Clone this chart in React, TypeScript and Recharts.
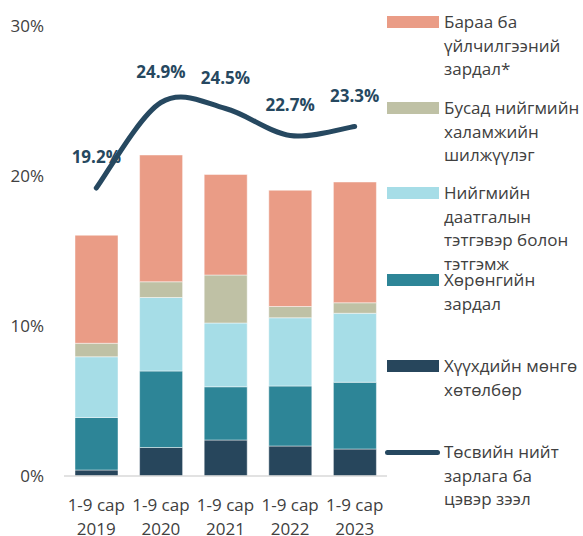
import { ComposedChart, Bar, Line, XAxis, YAxis, LabelList } from "recharts"

// Budget spending structure, share of GDP (%), Jan-Sep of each year
const periods = ["2019", "2020", "2021", "2022", "2023"]
const childMoney = [0.4, 1.9, 2.4, 2.0, 1.8]
const capitalSpending = [3.5, 5.1, 3.55, 4.0, 4.45]
const socialInsurance = [4.05, 4.9, 4.25, 4.55, 4.6]
const otherWelfare = [0.9, 1.05, 3.2, 0.75, 0.7]
const goodsServices = [7.2, 8.45, 6.7, 7.75, 8.05]
const totalSpending = [19.2, 24.9, 24.5, 22.7, 23.3]
const yTicks = [0, 10, 20, 30]

const legendLabels = [
  ["Бараа ба", "үйлчилгээний", "зардал*"],
  ["Бусад нийгмийн", "халамжийн", "шилжүүлэг"],
  ["Нийгмийн", "даатгалын", "тэтгэвэр болон", "тэтгэмж"],
  ["Хөрөнгийн", "зардал"],
  ["Хүүхдийн мөнгө", "хөтөлбөр"],
  ["Төсвийн нийт", "зарлага ба", "цэвэр зээл"],
]

const data = periods.map((year, i) => ({
  period: year,
  childMoney: childMoney[i],
  capitalSpending: capitalSpending[i],
  socialInsurance: socialInsurance[i],
  otherWelfare: otherWelfare[i],
  goodsServices: goodsServices[i],
  totalSpending: totalSpending[i],
}))

const FONT = "'Open Sans', 'Noto Sans', sans-serif"
const TEXT = "#404040"
const NAVY = "#264860"
const colors = ["#EA9C86", "#BFC1A5", "#A6DDE7", "#2D8597", "#27465C"]
const legendCenters = [22, 108, 193, 280, 366, 452]
const LH = 23.5

// excel-like smoothed line (catmull-rom as bezier)
const smoothCurve = (context: any) => {
  let xs: number[] = []
  let ys: number[] = []
  return {
    areaStart() {},
    areaEnd() {},
    lineStart() {
      xs = []
      ys = []
    },
    point(x: number, y: number) {
      xs.push(+x)
      ys.push(+y)
    },
    lineEnd() {
      const n = xs.length
      if (!n) return
      context.moveTo(xs[0], ys[0])
      for (let i = 0; i < n - 1; i++) {
        const a = Math.max(i - 1, 0)
        const d = Math.min(i + 2, n - 1)
        context.bezierCurveTo(
          xs[i] + (xs[i + 1] - xs[a]) / 6,
          ys[i] + (ys[i + 1] - ys[a]) / 6,
          xs[i + 1] - (xs[d] - xs[i]) / 6,
          ys[i + 1] - (ys[d] - ys[i]) / 6,
          xs[i + 1],
          ys[i + 1]
        )
      }
    },
  }
}

const PeriodTick = ({ x, y, payload }: any) => (
  <g transform={`translate(${x},${y})`}>
    <text textAnchor="middle" fontFamily={FONT} fontSize={17} fill={TEXT}>
      <tspan x={0} y={35}>1-9 сар</tspan>
      <tspan x={0} y={59}>{payload.value}</tspan>
    </text>
  </g>
)

const TotalLabel = ({ x, y, value }: any) => (
  <text x={x} y={y - 25} textAnchor="middle" fontFamily={FONT} fontSize={17} fontWeight={700} fill={NAVY}>
    {Number(value).toFixed(1)}%
  </text>
)

const ChartLegend = () => (
  <div style={{ position: "absolute", left: 385, top: 0, width: 198, height: 536, fontFamily: FONT, fontSize: 17, color: TEXT }}>
    {legendLabels.map((lines, i) => (
      <div key={i} style={{ position: "absolute", left: 0, top: legendCenters[i] - LH / 2, width: 260 }}>
        {i < 5 ? (
          <div style={{ position: "absolute", left: 2, top: (LH - 12) / 2, width: 52, height: 12, background: colors[i] }} />
        ) : (
          <div style={{ position: "absolute", left: 0, top: (LH - 5) / 2, width: 55, height: 5, borderRadius: 3, background: NAVY }} />
        )}
        <div style={{ marginLeft: 59, lineHeight: `${LH}px`, whiteSpace: "nowrap" }}>
          {lines.map((t, j) => (
            <div key={j}>{t}</div>
          ))}
        </div>
      </div>
    ))}
  </div>
)

const barEdge = { stroke: "#ffffff", strokeOpacity: 0.45, strokeWidth: 1 }

export default function App() {
  return (
    <div style={{ position: "absolute", left: 0, top: 0, width: 583, height: 536, overflow: "hidden", background: "#fff" }}>
      <ComposedChart width={583} height={536} data={data} margin={{ top: 26, right: 196, left: 0, bottom: 0 }} barSize={43}>
        <XAxis
          dataKey="period"
          axisLine={{ stroke: "#D9D9D9", strokeWidth: 1.5 }}
          tickLine={false}
          tickSize={0}
          tickMargin={0}
          height={60}
          tick={<PeriodTick />}
          interval={0}
        />
        <YAxis
          domain={[0, 30]}
          ticks={yTicks}
          width={64}
          axisLine={false}
          tickLine={false}
          tickSize={0}
          tickMargin={20}
          tickFormatter={(v) => `${v}%`}
          tick={{ fontFamily: FONT, fontSize: 17, fill: TEXT }}
        />
        <Bar dataKey="childMoney" stackId="s" fill={colors[4]} {...barEdge} isAnimationActive={false} />
        <Bar dataKey="capitalSpending" stackId="s" fill={colors[3]} {...barEdge} isAnimationActive={false} />
        <Bar dataKey="socialInsurance" stackId="s" fill={colors[2]} {...barEdge} isAnimationActive={false} />
        <Bar dataKey="otherWelfare" stackId="s" fill={colors[1]} {...barEdge} isAnimationActive={false} />
        <Bar dataKey="goodsServices" stackId="s" fill={colors[0]} {...barEdge} isAnimationActive={false} />
        <Line
          dataKey="totalSpending"
          type={smoothCurve as any}
          stroke={NAVY}
          strokeWidth={5}
          strokeLinecap="round"
          dot={false}
          activeDot={false}
          isAnimationActive={false}
        >
          <LabelList dataKey="totalSpending" content={<TotalLabel />} />
        </Line>
      </ComposedChart>
      <ChartLegend />
    </div>
  )
}
